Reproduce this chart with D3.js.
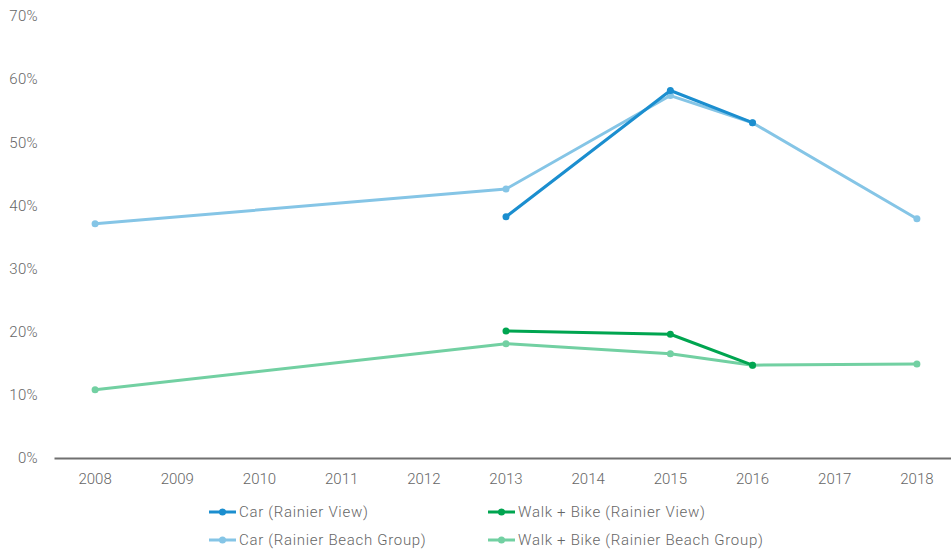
<!DOCTYPE html>
<html>
<head>
<meta charset="utf-8">
<script src="https://cdn.jsdelivr.net/npm/d3@7"></script>
<style>
  body { margin: 0; background: #fff; }
  text { font-family: Roboto, "Open Sans", sans-serif; fill: #666; font-weight: 300; }
</style>
</head>
<body>
<svg width="951" height="550"></svg>
<script>
const years = ["2008","2009","2010","2011","2012","2013","2014","2015","2016","2017","2018"];
const yTicks = [0, 0.1, 0.2, 0.3, 0.4, 0.5, 0.6, 0.7];

const carRBG = [["2008",0.371],["2013",0.426],["2015",0.574],["2016",0.531],["2018",0.379]];
const walkRBG = [["2008",0.108],["2013",0.181],["2015",0.165],["2016",0.147],["2018",0.149]];
const carRV = [["2013",0.382],["2015",0.582],["2016",0.531]];
const walkRV = [["2013",0.201],["2015",0.196],["2016",0.147]];

const series = [
  {name: "Car (Rainier Beach Group)", data: carRBG, color: "#85c5e6", width: 3},
  {name: "Walk + Bike (Rainier Beach Group)", data: walkRBG, color: "#72d0a2", width: 3},
  {name: "Car (Rainier View)", data: carRV, color: "#1b8ecf", width: 3},
  {name: "Walk + Bike (Rainier View)", data: walkRV, color: "#00a550", width: 3}
];

const svg = d3.select("svg");
const x = d3.scaleBand().domain(years).range([54, 958]);
const y = d3.scaleLinear().domain([0, 0.7]).range([458, 16]);

// y labels
svg.append("g").selectAll("text")
  .data(yTicks).enter().append("text")
  .attr("x", 38)
  .attr("y", d => y(d))
  .attr("dy", "0.35em")
  .attr("text-anchor", "end")
  .style("font-size", "15px")
  .style("letter-spacing", "0.3px")
  .text(d => d3.format(".0%")(d));

// x axis
const xAxis = svg.append("g")
  .attr("transform", "translate(0,458)")
  .call(d3.axisBottom(x).tickSize(0).tickPadding(15));
xAxis.select(".domain").attr("stroke", "#707070").attr("stroke-width", 2);
xAxis.selectAll("text").style("font-size", "15px").attr("fill", "#666")
  .style("font-family", "Roboto, sans-serif").style("font-weight", 300);

const line = d3.line()
  .x(d => x(d[0]) + x.bandwidth() / 2)
  .y(d => y(d[1]));

series.forEach(s => {
  const g = svg.append("g");
  g.append("path")
    .attr("d", line(s.data))
    .attr("fill", "none")
    .attr("stroke", s.color)
    .attr("stroke-width", s.width)
    .attr("stroke-linejoin", "round");
  g.selectAll("circle").data(s.data).enter().append("circle")
    .attr("cx", d => x(d[0]) + x.bandwidth() / 2)
    .attr("cy", d => y(d[1]))
    .attr("r", 3.5)
    .attr("fill", s.color);
});

// legend
const legendItems = [
  {s: series[2], x: 209, y: 512},
  {s: series[3], x: 488, y: 512},
  {s: series[0], x: 209, y: 540},
  {s: series[1], x: 488, y: 540}
];
legendItems.forEach(it => {
  const g = svg.append("g").attr("transform", `translate(${it.x},${it.y})`);
  g.append("line").attr("x1", 0).attr("x2", 27).attr("y1", 0).attr("y2", 0)
    .attr("stroke", it.s.color).attr("stroke-width", 3);
  g.append("circle").attr("cx", 13.5).attr("cy", 0).attr("r", 3.5).attr("fill", it.s.color);
  g.append("text").attr("x", 30).attr("y", 0).attr("dy", "0.35em")
    .style("font-size", "15px").style("letter-spacing", "0.7px").text(it.s.name);
});
</script>
</body>
</html>
